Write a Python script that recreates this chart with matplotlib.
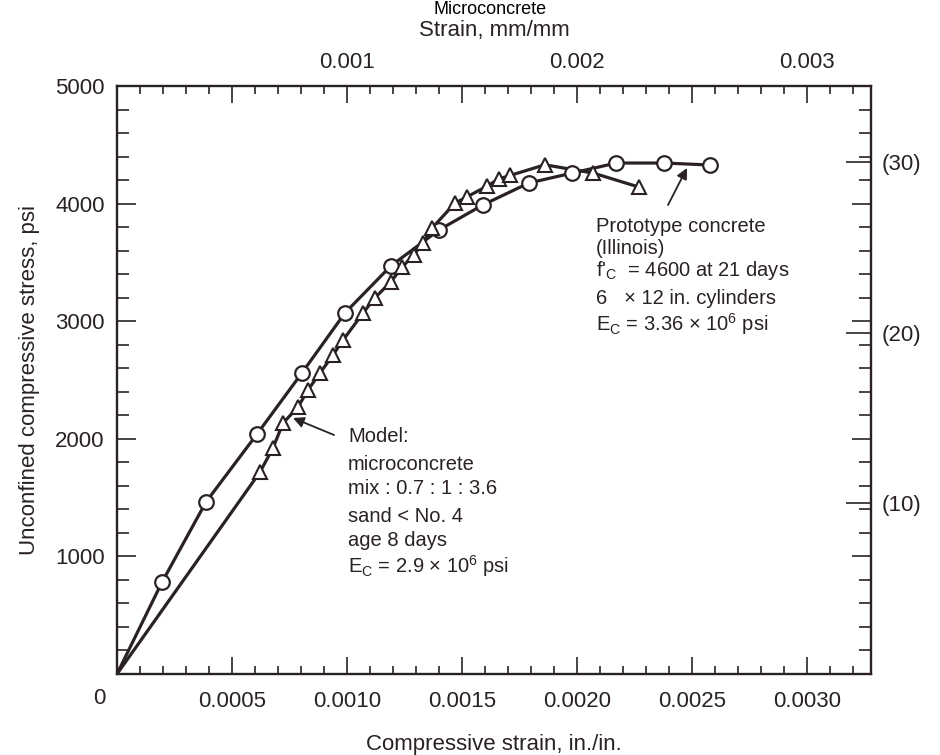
import matplotlib
matplotlib.use("Agg")
import matplotlib.pyplot as plt
from matplotlib.ticker import MultipleLocator
from matplotlib import font_manager as fm

# ---------------- data ----------------
proto_strain = [0.000196, 0.000387, 0.000609, 0.000804, 0.000991, 0.00119, 0.00140,
                0.00159, 0.00179, 0.00198, 0.00217, 0.00238, 0.00258]
proto_stress = [782, 1463, 2041, 2560, 3070, 3469, 3776, 3988, 4175, 4260, 4345, 4345, 4328]

model_strain = [0.000622, 0.000678, 0.000722, 0.000787, 0.000830, 0.000883, 0.000939,
                0.000983, 0.00107, 0.00112, 0.00119, 0.00124, 0.00129, 0.00133, 0.00137,
                0.00147, 0.00152, 0.00161, 0.00166, 0.00171, 0.00186, 0.00207, 0.00227]
model_stress = [1718, 1922, 2134, 2270, 2415, 2560, 2713, 2840, 3070, 3197, 3333, 3461,
                3563, 3665, 3793, 4005, 4056, 4150, 4210, 4240, 4330, 4260, 4140]

x_ticks = [0.0005, 0.0010, 0.0015, 0.0020, 0.0025, 0.0030]
x_ticklabels = ["0.0005", "0.0010", "0.0015", "0.0020", "0.0025", "0.0030"]
top_ticks = [0.001, 0.002, 0.003]
top_ticklabels = ["0.001", "0.002", "0.003"]
y_ticks = [1000, 2000, 3000, 4000, 5000]
y_ticklabels = ["1000", "2000", "3000", "4000", "5000"]
mpa_ticks = [10, 20, 30]
mpa_ticklabels = ["(10)", "(20)", "(30)"]
PSI_PER_MPA = 145.038

# ---------------- style ----------------
names = {f.name for f in fm.fontManager.ttflist}
base = "Liberation Sans" if "Liberation Sans" in names else "DejaVu Sans"
plt.rcParams["font.family"] = [base, "DejaVu Sans"]
plt.rcParams["mathtext.fontset"] = "custom"
plt.rcParams["mathtext.rm"] = base
plt.rcParams["mathtext.it"] = base
ink = "#2a2222"

fig = plt.figure(figsize=(9.4, 7.55), dpi=100)
fig.patch.set_facecolor("white")
L, R, T, B = 117, 871, 86, 674
W, H = 940, 755
ax = fig.add_axes([L / W, 1 - B / H, (R - L) / W, (B - T) / H])

# curves (start at origin) and markers
ax.plot([0] + proto_strain, [0] + proto_stress, color=ink, lw=2.3, zorder=2,
        solid_joinstyle="round")
ax.plot([0] + model_strain, [0] + model_stress, color=ink, lw=2.3, zorder=2,
        solid_joinstyle="round")
ax.plot(proto_strain, proto_stress, linestyle="none", marker="o", ms=10.5,
        mfc="white", mec=ink, mew=1.6, zorder=3)
ax.plot(model_strain, model_stress, linestyle="none", marker="^", ms=10,
        mfc="white", mec=ink, mew=1.5, zorder=3)

ax.set_xlim(0, 0.003278)
ax.set_ylim(0, 5000)

for s in ax.spines.values():
    s.set_color(ink)
    s.set_linewidth(1.7)

# x ticks (bottom + top, inward)
ax.set_xticks(x_ticks)
ax.set_xticklabels(x_ticklabels)
ax.xaxis.set_minor_locator(MultipleLocator(0.0001))
ax.tick_params(axis="x", which="both", direction="in", top=True, bottom=True,
               color=ink, width=1.2)
ax.tick_params(axis="x", which="major", length=12, pad=12, labelsize=16, labelcolor=ink)
ax.tick_params(axis="x", which="minor", length=5.5)
ax.annotate("0", xy=(0, 0), xycoords="data", xytext=(-18, -24),
            textcoords="offset pixels", ha="center", va="center",
            fontsize=16, color=ink, annotation_clip=False)

# y ticks (left + right, inward)
ax.set_yticks(y_ticks)
ax.set_yticklabels(y_ticklabels)
ax.yaxis.set_minor_locator(MultipleLocator(200))
ax.tick_params(axis="y", which="both", direction="in", left=True, right=True,
               color=ink, width=1.2)
ax.tick_params(axis="y", which="major", length=14, pad=9, labelsize=16, labelcolor=ink)
ax.tick_params(axis="y", which="minor", length=8.5)

# top secondary axis: strain mm/mm
top = ax.secondary_xaxis("top")
top.set_xticks(top_ticks)
top.set_xticklabels(top_ticklabels)
top.tick_params(length=0, pad=9, labelsize=16, labelcolor=ink)
top.spines["top"].set_visible(False)
top.set_xlabel("Strain, mm/mm", fontsize=16, color=ink, labelpad=12)

# right secondary axis: MPa
right = ax.secondary_yaxis("right", functions=(lambda p: p / PSI_PER_MPA,
                                               lambda m: m * PSI_PER_MPA))
right.set_yticks(mpa_ticks)
right.set_yticklabels(mpa_ticklabels)
right.tick_params(direction="in", length=18, width=1.2, color=ink, pad=8,
                  labelsize=16, labelcolor=ink)
right.spines["right"].set_visible(False)

# axis labels
ax.set_xlabel("Compressive strain, in./in.", fontsize=16, color=ink, labelpad=16)
fig.text(30 / W, 1 - 380 / H, "Unconfined compressive stress, psi", rotation=90,
         ha="center", va="center", fontsize=16, color=ink)
fig.text(490 / W, 0.999, "Microconcrete", ha="center", va="top", fontsize=13,
         color="black")

# annotations
def axfrac(px, py):
    return (px - L) / (R - L), (B - py) / (B - T)

proto_lines = [
    ("Prototype concrete", 227),
    ("(Illinois)", 248),
    (r"f$'_{\mathrm{C}}$  = 4600 at 21 days", 270),
    ("6   × 12 in. cylinders", 298),
    (r"E$_{\mathrm{C}}$ = 3.36 × 10$^{6}$ psi", 324),
]
for txt, py in proto_lines:
    ax.text(*axfrac(596, py), txt, transform=ax.transAxes, ha="left", va="center",
            fontsize=14.5, color=ink)

model_lines = [
    ("Model:", 437),
    ("microconcrete", 464),
    ("mix : 0.7 : 1 : 3.6", 488),
    ("sand < No. 4", 516),
    ("age 8 days", 540),
    (r"E$_{\mathrm{C}}$ = 2.9 × 10$^{6}$ psi", 566),
]
for txt, py in model_lines:
    ax.text(*axfrac(348, py), txt, transform=ax.transAxes, ha="left", va="center",
            fontsize=14.5, color=ink)

arrow = dict(arrowstyle="-|>", color=ink, lw=1.3, mutation_scale=16,
             shrinkA=0, shrinkB=0)
ax.annotate("", xy=axfrac(687, 168), xycoords="axes fraction",
            xytext=axfrac(668, 205), textcoords="axes fraction", arrowprops=arrow)
ax.annotate("", xy=axfrac(293, 418), xycoords="axes fraction",
            xytext=axfrac(334, 435), textcoords="axes fraction", arrowprops=arrow)

fig.savefig("out.png", dpi=100, facecolor="white")
